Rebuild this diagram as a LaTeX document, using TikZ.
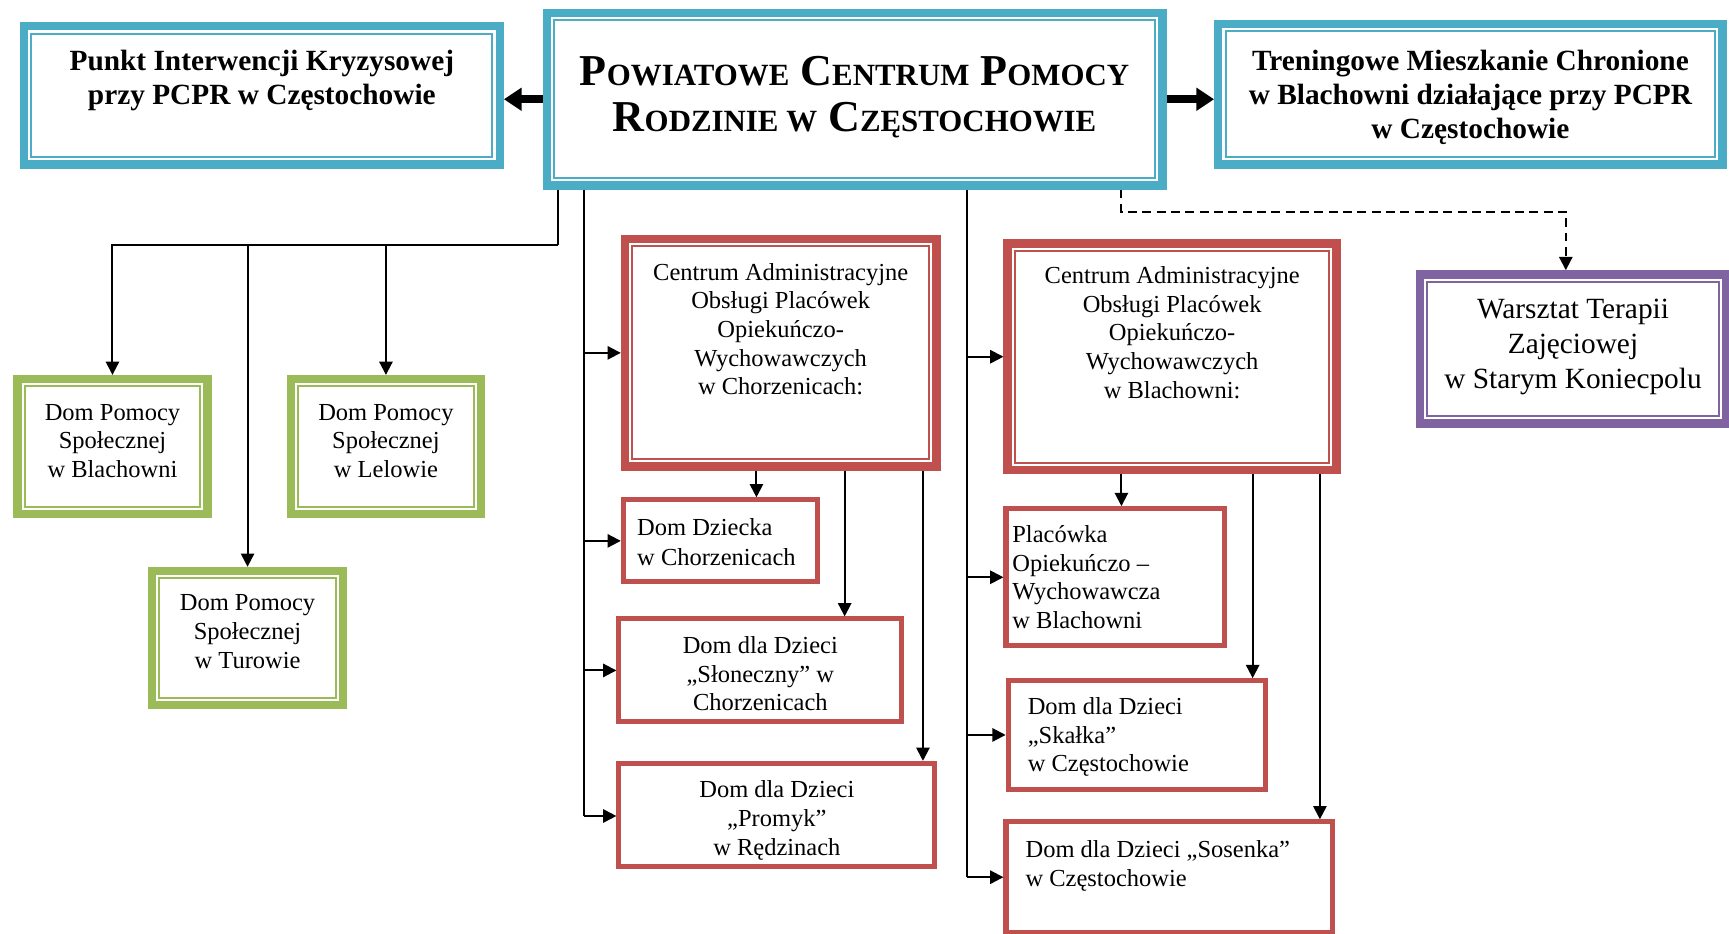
\documentclass[tikz,border=0pt]{standalone}
\usepackage{fontspec}
\setmainfont{Liberation Serif}
\usetikzlibrary{arrows.meta}
\definecolor{cblue}{HTML}{4BACC6}
\definecolor{cgreen}{HTML}{9BBB59}
\definecolor{cred}{HTML}{C0504D}
\definecolor{cpurple}{HTML}{8064A2}
\newcommand\tbox[4]{\parbox[c][#2][t]{#1}{\vspace*{#3}#4}}
\newcommand\st[1]{\rule{0pt}{#1}}
\newcommand\fn{\fontsize{11.1}{13}\selectfont}
\newcommand\fb{\fontsize{13.3}{15.5}\selectfont\bfseries}
\newcommand\fw{\fontsize{13.3}{15.75}\selectfont}
\newcommand\BCap[1]{{\fontsize{20}{21}\selectfont #1}}
\newcommand\SCap[1]{{\fontsize{14}{21}\selectfont #1}}
\tikzset{
  dbl/.style={draw=#1, line width=3.8pt, inner sep=0pt,
    path picture={\draw[#1, line width=0.9pt]
      ([shift={(3.3pt,3.3pt)}]path picture bounding box.south west) rectangle
      ([shift={(-3.3pt,-3.3pt)}]path picture bounding box.north east);}},
  single/.style={draw=cred, line width=2.3pt, inner sep=0pt},
  conn/.style={line width=0.9pt},
  arr/.style={conn, -{Triangle[length=6pt,width=6pt]}},
  bigarr/.style={line width=3.6pt, -{Triangle[length=8pt,width=10pt]}},
  dasharr/.style={arr, dash pattern=on 4pt off 2.5pt}
}
\begin{document}
\begin{tikzpicture}[x=0.5pt,y=-0.5pt]
\useasboundingbox (0,0) rectangle (1568,847);

% top row
\node[dbl=cblue] (punkt) at (237.5,86.5)
  {\tbox{215.7pt}{62.7pt}{10.1pt}{\fb\centering\st{10pt}Punkt Interwencji Kryzysowej\\przy PCPR w Częstochowie}};
\node[dbl=cblue] (main) at (775,90)
  {\tbox{279.2pt}{78.2pt}{17.8pt}{\bfseries\fontsize{20}{21}\selectfont\centering\st{15pt}\BCap{P}\SCap{OWIATOWE} \BCap{C}\SCap{ENTRUM} \BCap{P}\SCap{OMOCY}\\\BCap{R}\SCap{ODZINIE W} \BCap{C}\SCap{ZĘSTOCHOWIE}}};
\node[dbl=cblue] (tren) at (1333.5,85.5)
  {\tbox{228.7pt}{63.7pt}{11.1pt}{\fb\centering\st{10pt}Treningowe Mieszkanie Chronione\\w Blachowni działające przy PCPR\\w Częstochowie}};

% green boxes
\node[dbl=cgreen] (dpb) at (102,405)
  {\tbox{86.2pt}{61.2pt}{10.6pt}{\fn\centering\st{8pt}Dom Pomocy\\Społecznej\\w Blachowni}};
\node[dbl=cgreen] (dpl) at (350,405)
  {\tbox{86.2pt}{61.2pt}{10.6pt}{\fn\centering\st{8pt}Dom Pomocy\\Społecznej\\w Lelowie}};
\node[dbl=cgreen] (dpt) at (224.5,578.5)
  {\tbox{86.7pt}{60.7pt}{10.1pt}{\fn\centering\st{8pt}Dom Pomocy\\Społecznej\\w Turowie}};

% Chorzenice column
\node[dbl=cred] (cac) at (708,320)
  {\tbox{141.2pt}{103.2pt}{10.6pt}{\fn\centering\st{8pt}Centrum Administracyjne\\Obsługi Placówek\\Opiekuńczo-\\Wychowawczych\\w Chorzenicach:}};
\node[single] (dd) at (653.5,490.5)
  {\tbox{88.2pt}{37.2pt}{8.1pt}{\fontsize{11.1}{13.5}\selectfont\raggedright\leftskip=6.3pt\st{8pt}Dom Dziecka\\w Chorzenicach}};
\node[single] (slo) at (689.5,608)
  {\tbox{128.2pt}{46.7pt}{7.6pt}{\fn\centering\st{8pt}Dom dla Dzieci\\„Słoneczny” w\\Chorzenicach}};
\node[single] (prom) at (704.5,739)
  {\tbox{143.2pt}{46.7pt}{7.6pt}{\fn\centering\st{8pt}Dom dla Dzieci\\„Promyk”\\w Rędzinach}};

% Blachownia column
\node[dbl=cred] (cab) at (1063,323.5)
  {\tbox{149.2pt}{102.7pt}{10.1pt}{\fn\centering\st{8pt}Centrum Administracyjne\\Obsługi Placówek\\Opiekuńczo-\\Wychowawczych\\w Blachowni:}};
\node[single] (plac) at (1011.5,523.5)
  {\tbox{99.2pt}{62.2pt}{7.3pt}{\fn\raggedright\leftskip=2.9pt\st{8pt}Placówka\\Opiekuńczo –\\Wychowawcza\\w Blachowni}};
\node[single] (skal) at (1031,666.5)
  {\tbox{116.7pt}{49.2pt}{7.3pt}{\fn\raggedright\leftskip=8.9pt\st{8pt}Dom dla Dzieci\\„Skałka”\\w Częstochowie}};
\node[single] (sos) at (1060.5,795.5)
  {\tbox{148.2pt}{50.2pt}{8.3pt}{\fn\raggedright\leftskip=8.9pt\st{8pt}Dom dla Dzieci „Sosenka”\\w Częstochowie}};

% purple
\node[dbl=cpurple] (wtz) at (1426.5,316.5)
  {\tbox{138.7pt}{67.7pt}{10.1pt}{\fw\centering\st{10pt}Warsztat Terapii\\Zajęciowej\\w Starym Koniecpolu}};

% big arrows
\draw[bigarr] (main.west) -- (main.west -| punkt.east);
\draw[bigarr] (main.east) -- (main.east -| tren.west);

% left tree
\coordinate (lt) at (506,222);
\draw[conn] (main.south -| lt) -- (lt);
\draw[arr] (lt) -| (dpb.north);
\draw[arr] (lt) -| (dpl.north);
\draw[arr] (lt) -| (dpt.north);

% middle trunk
\coordinate (mt) at (530,740);
\draw[conn] (main.south -| mt) -- (mt);
\draw[arr] (mt |- cac.west) -- (cac.west);
\draw[arr] (mt |- dd.west) -- (dd.west);
\draw[arr] (mt |- slo.west) -- (slo.west);
\draw[arr] (mt) -- (mt -| prom.west);

\coordinate (c1) at (686,0);
\coordinate (c2) at (766,0);
\coordinate (c3) at (837,0);
\draw[arr] (cac.south -| c1) -- (dd.north -| c1);
\draw[arr] (cac.south -| c2) -- (slo.north -| c2);
\draw[arr] (cac.south -| c3) -- (prom.north -| c3);

% right trunk
\coordinate (rt) at (877,795.5);
\draw[conn] (main.south -| rt) -- (rt);
\draw[arr] (rt |- cab.west) -- (cab.west);
\draw[arr] (rt |- plac.west) -- (plac.west);
\draw[arr] (rt |- skal.west) -- (skal.west);
\draw[arr] (rt) -- (sos.west);

\coordinate (b1) at (1017,0);
\coordinate (b2) at (1136,0);
\coordinate (b3) at (1197,0);
\draw[arr] (cab.south -| b1) -- (plac.north -| b1);
\draw[arr] (cab.south -| b2) -- (skal.north -| b2);
\draw[arr] (cab.south -| b3) -- (sos.north -| b3);

% dashed
\coordinate (d1) at (1017,192);
\coordinate (d2) at (1420,192);
\draw[dasharr] (main.south -| d1) -- (d1) -- (d2) -- (d2 |- wtz.north);
\end{tikzpicture}
\end{document}
